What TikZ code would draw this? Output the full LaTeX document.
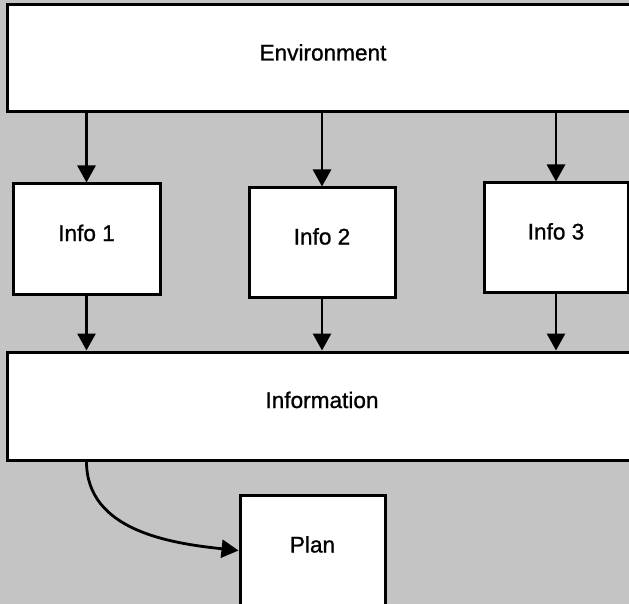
\documentclass[tikz,border=0pt]{standalone}
\usepackage{fontspec}
\setmainfont{Liberation Sans}[BoldFont = Liberation Sans, BoldFeatures = {FakeBold = 1}]
\usetikzlibrary{arrows.meta}

\begin{document}
\begin{tikzpicture}[x=1pt, y=-1pt,
    box/.style = {draw, line width=3pt, fill=white, inner sep=0pt,
      font=\fontsize{22.6}{27}\selectfont\bfseries, text height=16pt, text depth=12pt},
    arr/.style = {line width=2.8pt, -{Triangle[length=17pt, width=18pt]}}]
    \useasboundingbox (0,0) rectangle (629,604);
    \clip (0,0) rectangle (629,604);
    \fill[black!23] (0,0) rectangle (629,604);

    \node[box, minimum width = 632pt, minimum height = 107pt] (env) at (323,58.5) {Environment};

    \node[box, minimum width = 147pt, minimum height = 110pt] (info1) at (86.5,239) {Info 1};
    \node[box, minimum width = 146pt, minimum height = 109pt] (info2) at (322,242.5) {Info 2};
    \node[box, minimum width = 144pt, minimum height = 109pt] (info3) at (556,237.5) {Info 3};

    \node[box, minimum width = 630pt, minimum height = 108pt] (info) at (322,406) {Information};

    \node[box, minimum width = 145pt, minimum height = 111pt] (plan) at (312.5,550.5) {Plan};

    \draw[arr] (env.south -| info1.north) -- (info1.north);
    \draw[arr] (env.south -| info2.north) -- (info2.north);
    \draw[arr] (env.south -| info3.north) -- (info3.north);

    \draw[arr] (info1.south) -- (info1.south |- info.north);
    \draw[arr] (info2.south) -- (info2.south |- info.north);
    \draw[arr] (info3.south) -- (info3.south |- info.north);

    \draw[arr] (info.south -| info1.south) to[out = -90, in = 174] (plan.west);
\end{tikzpicture}
\end{document}
